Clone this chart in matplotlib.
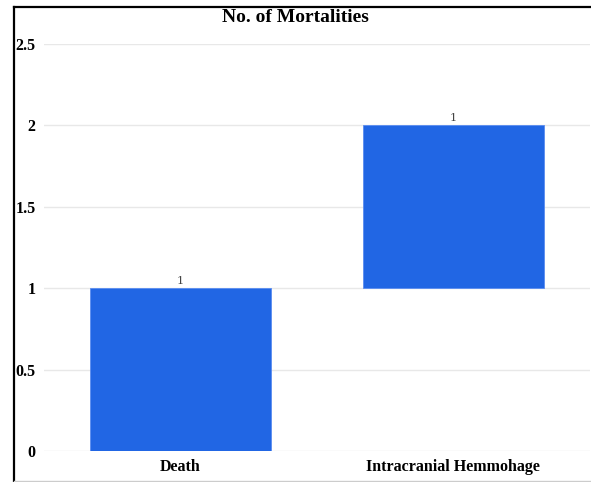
import matplotlib.pyplot as plt
from matplotlib.lines import Line2D

categories = ['Death', 'Intracranial Hemmohage']
bottoms = [0, 1]
counts = [1, 1]
y_ticks = [0, 0.5, 1, 1.5, 2, 2.5]
y_tick_labels = ['0', '0.5', '1', '1.5', '2', '2.5']

fig = plt.figure(figsize=(5.91, 4.82), dpi=100)
ax = fig.add_axes([0.0745, 0.0643, 0.9235, 0.8444])

x = range(len(categories))
bars = ax.bar(x, counts, bottom=bottoms, width=0.665, color='#2166e4',
              edgecolor='#5a8cf0', linewidth=0.6, zorder=3)

for rect, c in zip(bars, counts):
    ax.text(rect.get_x() + rect.get_width() / 2, rect.get_y() + rect.get_height() + 0.015,
            str(c), ha='center', va='bottom', fontsize=8, color='#444444',
            family='DejaVu Serif')

ax.set_xlim(-0.5, 1.5)
ax.set_ylim(0, 2.5)
ax.set_yticks(y_ticks)
ax.set_yticklabels(y_tick_labels)
ax.set_xticks(list(x))
ax.set_xticklabels(categories)

ax.grid(axis='y', color='#e8e8e8', linewidth=1, zorder=0)
for s in ax.spines.values():
    s.set_visible(False)
ax.tick_params(length=0)
ax.tick_params(axis='y', pad=6)
ax.tick_params(axis='x', pad=6)
for lab in ax.get_yticklabels() + ax.get_xticklabels():
    lab.set_fontfamily('Liberation Serif')
    lab.set_fontweight('bold')
    lab.set_fontsize(11.5)

fig.text(0.5, 0.963, 'No. of Mortalities', ha='center', va='center',
         fontsize=14, fontweight='bold', family='Liberation Serif')

# screenshot frame
fig.add_artist(Line2D([14.5 / 591, 14.5 / 591], [0, 1 - 7 / 482], color='black', linewidth=1.6))
fig.add_artist(Line2D([14.5 / 591, 1], [1 - 7 / 482, 1 - 7 / 482], color='black', linewidth=1.6))
fig.add_artist(Line2D([14.5 / 591, 1], [1.5 / 482, 1.5 / 482], color='#cccccc', linewidth=1))

fig.savefig('out.png', dpi=100)
